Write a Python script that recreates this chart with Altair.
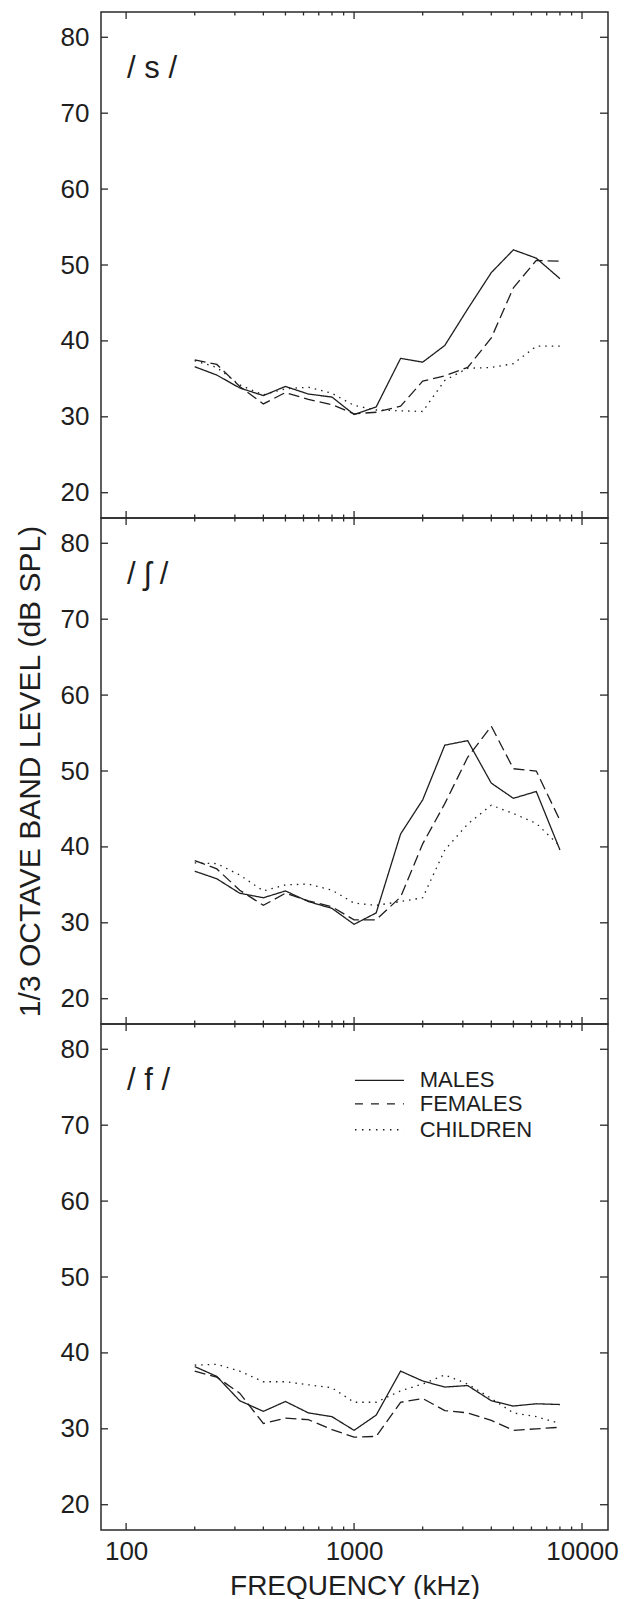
import altair as alt
import pandas as pd

# ---------------- data ----------------
freqs = [200, 250, 315, 400, 500, 630, 800, 1000, 1250, 1600, 2000, 2500, 3150, 4000, 5000, 6300, 8000]

s_males    = [36.6, 35.5, 33.8, 32.8, 34.0, 33.0, 32.6, 30.3, 31.3, 37.7, 37.2, 39.4, 44.2, 49.0, 52.0, 50.9, 48.2]
s_females  = [37.5, 36.9, 34.0, 31.7, 33.2, 32.3, 31.6, 30.4, 30.6, 31.4, 34.7, 35.4, 36.5, 40.4, 47.0, 50.6, 50.5]
s_children = [37.4, 36.5, 34.2, 32.9, 33.7, 33.9, 33.1, 31.5, 30.9, 30.8, 30.7, 34.8, 36.4, 36.5, 37.0, 39.3, 39.3]

sh_males    = [36.8, 35.8, 33.9, 33.3, 34.2, 32.8, 31.9, 29.8, 31.3, 41.7, 46.2, 53.4, 54.0, 48.4, 46.4, 47.3, 39.6]
sh_females  = [38.2, 37.1, 34.3, 32.3, 33.9, 32.9, 32.1, 30.4, 30.4, 33.4, 40.4, 45.7, 51.8, 55.9, 50.3, 50.0, 43.5]
sh_children = [37.9, 37.8, 36.3, 34.2, 35.0, 35.1, 34.3, 32.6, 32.3, 32.8, 33.3, 39.6, 43.0, 45.5, 44.4, 43.1, 40.1]

f_males    = [38.2, 36.9, 33.7, 32.3, 33.6, 32.1, 31.6, 29.8, 31.8, 37.6, 36.3, 35.5, 35.7, 33.7, 33.0, 33.3, 33.2]
f_females  = [37.6, 36.8, 34.7, 30.7, 31.4, 31.2, 29.9, 28.9, 29.0, 33.5, 34.0, 32.4, 32.1, 31.1, 29.8, 30.0, 30.2]
f_children = [38.4, 38.5, 37.6, 36.2, 36.2, 35.8, 35.4, 33.5, 33.5, 35.0, 35.9, 37.1, 35.9, 34.0, 32.1, 31.6, 30.7]

series_names = ["MALES", "FEMALES", "CHILDREN"]
panel_labels = ["/ s /", "/ \u0283 /", "/ f /"]
label_x = [101]
label_y = [74.6]

x_major = [100, 1000, 10000]
x_minor = [200, 300, 400, 500, 600, 700, 800, 900, 2000, 3000, 4000, 5000, 6000, 7000, 8000, 9000]
y_ticks = [20, 30, 40, 50, 60, 70, 80]

legend_x1 = [1009]
legend_x2 = [1656]
legend_text_x = [1941]
legend_y = [75.9, 72.8, 69.4]

# ---------------- layout constants ----------------
W, H = 507, 506
X_DOMAIN = [77.6, 13000]
Y_DOMAIN = [16.67, 83.33]
INK = "#1e1e1e"
FONT = "Liberation Sans"

dash_scale = alt.Scale(domain=series_names, range=[[1, 0], [11, 5], [1.5, 5]])
legend_dash_scale = alt.Scale(domain=series_names, range=[[1, 0], [8, 8], [1.5, 5.5]])


def xenc(axis, field="freq"):
    return alt.X(f"{field}:Q", scale=alt.Scale(type="log", domain=X_DOMAIN, nice=False), axis=axis)


def yenc(axis, field="level"):
    return alt.Y(f"{field}:Q", scale=alt.Scale(domain=Y_DOMAIN, nice=False, zero=False), axis=axis)


def panel(idx, males, females, children, show_x, show_ytitle, legend=False):
    rows = []
    for name, vals in zip(series_names, [males, females, children]):
        for f, v in zip(freqs, vals):
            rows.append({"freq": f, "level": v, "series": name})
    df = pd.DataFrame(rows)

    x_axis = None
    if show_x:
        x_axis = alt.Axis(values=x_major, format="d", ticks=False, tickSize=0, domain=False,
                          grid=False, labelPadding=8, labelFontSize=26, labelFont=FONT,
                          labelColor=INK, title="FREQUENCY  (kHz)", titleFontSize=28,
                          titleFont=FONT, titleColor=INK, titleFontWeight="normal",
                          titlePadding=8, labelFlush=False)
    y_axis = alt.Axis(values=y_ticks, ticks=False, tickSize=0, domain=False, grid=False,
                      labelPadding=12, labelFontSize=26, labelFont=FONT, labelColor=INK,
                      title=("1/3  OCTAVE  BAND  LEVEL  (dB  SPL)" if show_ytitle else None),
                      titleFontSize=30, titleFont=FONT, titleColor=INK,
                      titleFontWeight="normal", titlePadding=15)

    lines = alt.Chart(df).mark_line(color=INK, strokeWidth=1.3).encode(
        x=xenc(x_axis), y=yenc(y_axis),
        strokeDash=alt.StrokeDash("series:N", scale=dash_scale, legend=None),
        detail="series:N",
    )

    maj = pd.DataFrame({"freq": x_major})
    mnr = pd.DataFrame({"freq": x_minor})
    yt = pd.DataFrame({"level": y_ticks})
    tick_style = dict(color="#2a2a2a", strokeWidth=1.3)

    layers = [lines]
    for d, ln in [(maj, 7), (mnr, 3.5)]:
        layers.append(alt.Chart(d).mark_rule(**tick_style).encode(
            x=xenc(x_axis), y=alt.value(0), y2=alt.value(ln)))
        layers.append(alt.Chart(d).mark_rule(**tick_style).encode(
            x=xenc(x_axis), y=alt.value(H), y2=alt.value(H - ln)))
    layers.append(alt.Chart(yt).mark_rule(**tick_style).encode(
        y=yenc(y_axis), x=alt.value(0), x2=alt.value(7)))
    layers.append(alt.Chart(yt).mark_rule(**tick_style).encode(
        y=yenc(y_axis), x=alt.value(W - 8), x2=alt.value(W)))

    lab = pd.DataFrame({"freq": label_x, "level": label_y, "text": [panel_labels[idx]]})
    layers.append(alt.Chart(lab).mark_text(align="left", baseline="alphabetic", fontSize=31,
                                           font=FONT, color=INK).encode(
        x=xenc(x_axis), y=yenc(y_axis), text="text:N"))

    if legend:
        lg = pd.DataFrame({"freq": legend_x1 * 3, "freq2": legend_x2 * 3,
                           "level": legend_y, "series": series_names,
                           "tx": legend_text_x * 3})
        layers.append(alt.Chart(lg).mark_rule(color=INK, strokeWidth=1.3).encode(
            x=xenc(x_axis), x2="freq2:Q", y=yenc(y_axis),
            strokeDash=alt.StrokeDash("series:N", scale=legend_dash_scale, legend=None)))
        layers.append(alt.Chart(lg).mark_text(align="left", baseline="middle", fontSize=22,
                                              font=FONT, color=INK).encode(
            x=xenc(x_axis, "tx"), y=yenc(y_axis), text="series:N"))

    return alt.layer(*layers).resolve_scale(strokeDash="independent").properties(width=W, height=H)


p1 = panel(0, s_males, s_females, s_children, False, False)
p2 = panel(1, sh_males, sh_females, sh_children, False, True)
p3 = panel(2, f_males, f_females, f_children, True, False, legend=True)

chart = alt.vconcat(p1, p2, p3, spacing=0, bounds="flush").properties(
    padding={"left": 14, "top": 10, "right": 5, "bottom": 5},
    background="white",
).configure_view(stroke="#2a2a2a", strokeWidth=1.5).configure_concat(spacing=0)

chart.save("out.html", embed_options={"renderer": "svg", "actions": False})
